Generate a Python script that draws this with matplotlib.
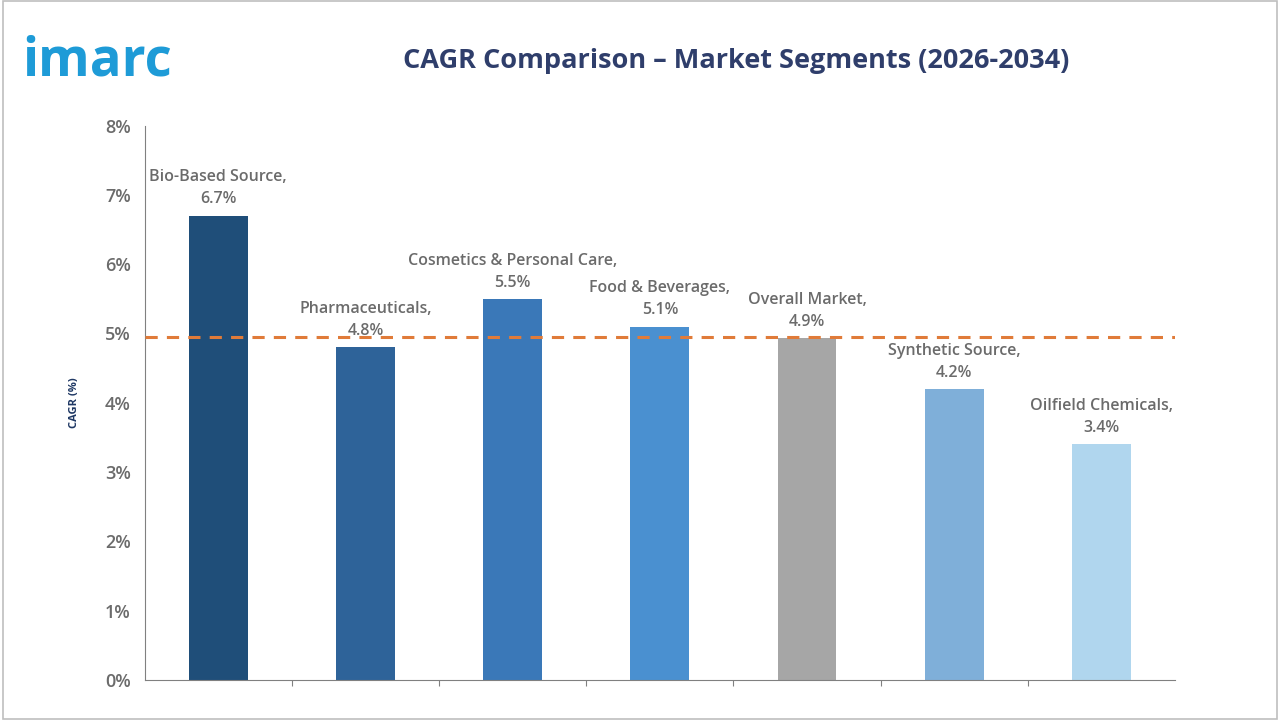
import matplotlib
matplotlib.use("Agg")
import matplotlib.pyplot as plt
from matplotlib.patches import Rectangle

categories = ["Bio-Based Source", "Pharmaceuticals", "Cosmetics & Personal Care",
              "Food & Beverages", "Overall Market", "Synthetic Source", "Oilfield Chemicals"]
values = [6.7, 4.8, 5.5, 5.1, 4.93, 4.2, 3.4]
colors = ["#1F4E79", "#2E6399", "#3A78B8", "#4A90D0", "#A6A6A6", "#7FAFD9", "#B0D6EE"]
yticks = [0, 1, 2, 3, 4, 5, 6, 7, 8]
ref_line = 4.95

plt.rcParams['font.family'] = ['Open Sans', 'DejaVu Sans']
fig = plt.figure(figsize=(12.8, 7.2), dpi=100)
fig.patches.append(Rectangle((0.002, 0.002), 0.996, 0.996, transform=fig.transFigure,
                             fill=False, edgecolor="#BFBFBF", linewidth=1.2))
ax = fig.add_axes([0.113, 0.0556, 0.805, 0.770])
x = list(range(len(categories)))
ax.bar(x, values, width=0.4, color=colors, zorder=2)
ax.axhline(ref_line, color="#E07B39", linestyle=(0, (4, 3)), linewidth=2.2, zorder=3)
for xi, v, c in zip(x, values, categories):
    ax.text(xi, v + 0.12, f"{c},\n{v:.1f}%", ha="center", va="bottom",
            fontsize=11.5, color="#6B6B6B", fontweight="semibold", linespacing=1.5, zorder=4)
ax.set_xlim(-0.5, len(categories) - 0.5)
ax.set_ylim(0, 8)
ax.set_yticks(yticks)
ax.set_yticklabels([f"{t}%" for t in yticks], fontsize=13, color="#6B6B6B", fontweight="semibold")
ax.set_xticks([i + 0.5 for i in x[:-1]])
ax.set_xticklabels([])
ax.tick_params(axis="x", length=4, color="#808080")
ax.tick_params(axis="y", length=0, pad=10)
for s in ["top", "right"]:
    ax.spines[s].set_visible(False)
for s in ["left", "bottom"]:
    ax.spines[s].set_color("#808080")
ax.set_ylabel("CAGR (%)", fontsize=8, color="#1F3864", fontweight="bold", labelpad=18)
fig.text(0.575, 0.915, "CAGR Comparison – Market Segments (2026-2034)", ha="center", va="center",
         fontsize=19.5, fontweight="bold", color="#2F3E6B")
fig.text(0.017, 0.915, "imarc", ha="left", va="center", fontsize=38, fontweight="bold",
         color="#1E9BD7")
fig.savefig("out.png", dpi=100)
